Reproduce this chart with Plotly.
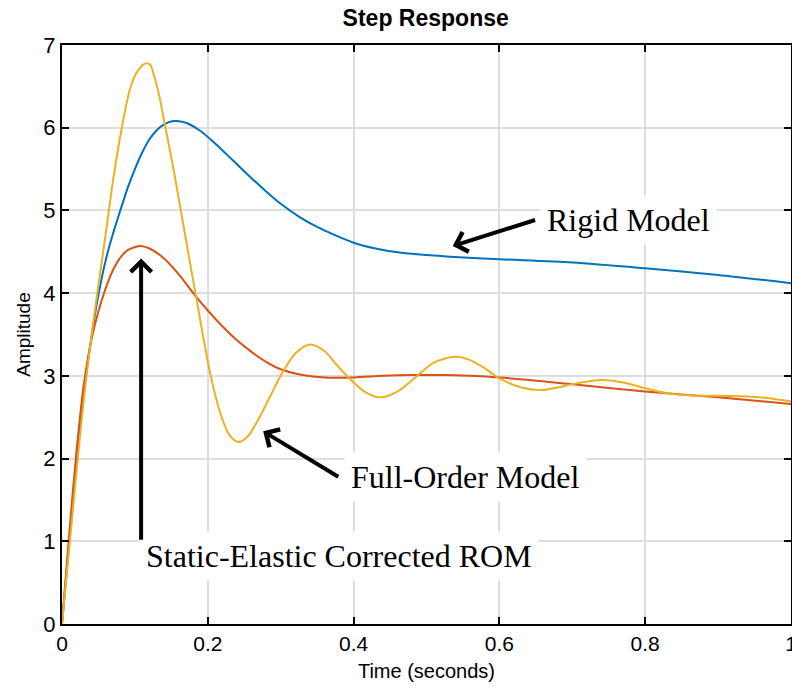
import plotly.graph_objects as go

# ---------------- data ----------------
t_rigid = [0, 0.01, 0.02, 0.03, 0.04, 0.05, 0.06, 0.07, 0.08, 0.09, 0.10, 0.11, 0.12, 0.13, 0.14,
           0.153, 0.17, 0.19, 0.21, 0.235, 0.26, 0.28, 0.30, 0.326, 0.35, 0.372, 0.40, 0.43,
           0.463, 0.50, 0.532, 0.60, 0.70, 0.80, 0.90, 1.0]
y_rigid = [0, 1.0, 1.95, 2.8, 3.45, 3.98, 4.4, 4.72, 5.0, 5.27, 5.5, 5.7, 5.86, 5.97, 6.04,
           6.08, 6.06, 5.96, 5.81, 5.6, 5.39, 5.23, 5.08, 4.92, 4.80, 4.71, 4.61, 4.54,
           4.49, 4.46, 4.44, 4.41, 4.37, 4.30, 4.22, 4.12]

t_rom = [0, 0.01, 0.02, 0.03, 0.04, 0.05, 0.06, 0.07, 0.08, 0.09, 0.107, 0.12, 0.14, 0.16, 0.18,
         0.20, 0.22, 0.24, 0.26, 0.28, 0.30, 0.33, 0.36, 0.40, 0.44, 0.48, 0.52, 0.56, 0.60,
         0.70, 0.80, 0.90, 1.0]
y_rom = [0, 1.1, 2.1, 2.9, 3.42, 3.78, 4.06, 4.28, 4.43, 4.52, 4.57, 4.54, 4.42, 4.23, 4.0,
         3.79, 3.6, 3.43, 3.29, 3.17, 3.08, 3.01, 2.98, 2.98, 3.0, 3.01, 3.01, 3.0, 2.98,
         2.9, 2.81, 2.74, 2.66]

t_full = [0, 0.01, 0.02, 0.03, 0.04, 0.05, 0.06, 0.07, 0.082, 0.093, 0.102, 0.111, 0.116, 0.121,
          0.126, 0.133, 0.142, 0.155, 0.163, 0.183, 0.204, 0.219, 0.23, 0.242, 0.255,
          0.271, 0.286, 0.301, 0.32, 0.34, 0.36, 0.375, 0.393, 0.415, 0.436, 0.46, 0.486, 0.51,
          0.539, 0.56, 0.58, 0.60, 0.63, 0.658, 0.68, 0.70, 0.74, 0.77, 0.80, 0.83, 0.87, 0.90,
          0.94, 0.97, 1.0]
y_full = [0, 0.92, 1.85, 2.72, 3.45, 4.1, 4.72, 5.36, 6.0, 6.46, 6.66, 6.76, 6.78, 6.76,
          6.64, 6.4, 6.0, 5.4, 5.0, 4.0, 3.0, 2.5, 2.28, 2.2, 2.27,
          2.5, 2.76, 3.02, 3.27, 3.38, 3.3, 3.15, 2.98, 2.81, 2.74, 2.81, 2.99, 3.16,
          3.23, 3.19, 3.09, 2.97, 2.86, 2.83, 2.86, 2.90, 2.95, 2.92, 2.85, 2.79, 2.76, 2.76,
          2.75, 2.73, 2.69]

x_ticks = [0, 0.2, 0.4, 0.6, 0.8, 1]
x_ticklabels = ["0", "0.2", "0.4", "0.6", "0.8", "1"]
y_ticks = [0, 1, 2, 3, 4, 5, 6, 7]
y_ticklabels = ["0", "1", "2", "3", "4", "5", "6", "7"]

labels = ["Rigid Model", "Full-Order Model", "Static-Elastic Corrected ROM"]
label_pos = [(0.777, 4.89), (0.554, 1.78), (0.380, 0.82)]
arrow_head = [(0.536, 4.57), (0.276, 2.33), (0.1085, 4.42)]
arrow_tail = [(0.651, 4.89), (0.381, 1.77), (0.1085, 1.0)]

# ---------------- figure ----------------
line_style = dict(width=2, shape="spline", smoothing=0.8)
fig = go.Figure()
fig.add_trace(go.Scatter(x=t_rigid, y=y_rigid, mode="lines", line=dict(color="#0072BD", **line_style), showlegend=False))
fig.add_trace(go.Scatter(x=t_rom, y=y_rom, mode="lines", line=dict(color="#D95319", **line_style), showlegend=False))
fig.add_trace(go.Scatter(x=t_full, y=y_full, mode="lines", line=dict(color="#EDB120", **line_style), showlegend=False))

annotations = []
for txt, (lx, ly) in zip(labels, label_pos):
    annotations.append(dict(x=lx, y=ly, xref="x", yref="y", text=txt, showarrow=False,
                            font=dict(family="Liberation Serif", size=32, color="black"),
                            bgcolor="white", borderpad=6))
for (hx, hy), (tx, ty) in zip(arrow_head, arrow_tail):
    annotations.append(dict(x=hx, y=hy, ax=tx, ay=ty, xref="x", yref="y", axref="x", ayref="y",
                            text="", showarrow=True, arrowhead=4, arrowsize=1, arrowwidth=4,
                            arrowcolor="black", standoff=0))

fig.update_layout(
    width=792, height=688,
    margin=dict(l=62, r=1, t=45, b=64, autoexpand=False),
    paper_bgcolor="white", plot_bgcolor="white",
    title=dict(text="<b>Step Response</b>", x=0.5375, xanchor="center", y=0.974, yanchor="middle",
               font=dict(family="Liberation Sans", size=23, color="black")),
    annotations=annotations,
    showlegend=False,
)
fig.update_xaxes(range=[0, 1], tickvals=x_ticks, ticktext=x_ticklabels, ticklabeloverflow="allow",
                 automargin=False,
                 showline=True, linecolor="black", linewidth=2, mirror="ticks",
                 ticks="inside", ticklen=7, tickwidth=2, tickcolor="black",
                 showgrid=True, gridcolor="#dedede", gridwidth=1.5, zeroline=False,
                 tickfont=dict(family="Liberation Sans", size=21, color="black"),
                 title=dict(text="Time (seconds)", font=dict(family="Liberation Sans", size=20, color="black"), standoff=10))
fig.update_yaxes(range=[0, 7], tickvals=y_ticks, ticktext=y_ticklabels, automargin=False,
                 showline=True, linecolor="black", linewidth=2, mirror="ticks",
                 ticks="inside", ticklen=7, tickwidth=2, tickcolor="black",
                 showgrid=True, gridcolor="#dedede", gridwidth=1.5, zeroline=False,
                 tickfont=dict(family="Liberation Sans", size=22, color="black"),
                 title=dict(text="Amplitude", font=dict(family="Liberation Sans", size=19, color="black"), standoff=8))

fig.write_html("out.html")
